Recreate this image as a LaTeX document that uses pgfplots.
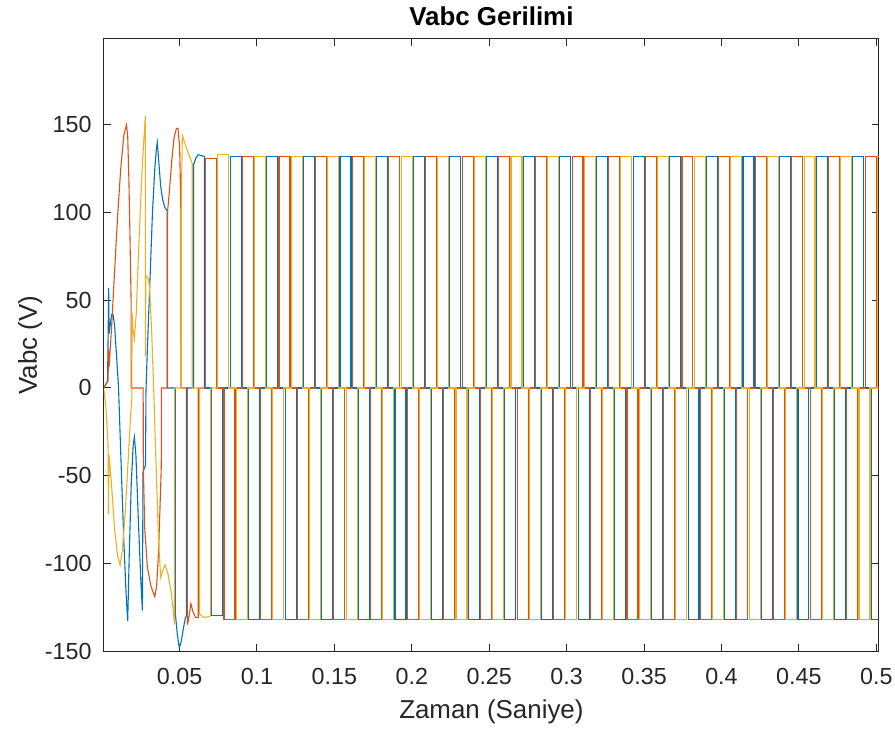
\documentclass[border=0pt]{standalone}
\usepackage{fontspec}
\setmainfont{Liberation Sans}
\usepackage{pgfplots}
\pgfplotsset{compat=1.18}
\definecolor{mblue}{rgb}{0,0.447,0.741}
\definecolor{mred}{rgb}{0.85,0.325,0.098}
\definecolor{myel}{rgb}{0.929,0.694,0.125}
\definecolor{axgray}{rgb}{0.15,0.15,0.15}

\begin{document}
\begin{tikzpicture}
\useasboundingbox (-52bp,-39bp) rectangle (395.5bp,325.5bp);
\begin{axis}[
  at={(0,0)}, anchor=south west,
  scale only axis, width=387.4bp, height=306bp,
  xmin=0.0012, xmax=0.5016, ymin=-150, ymax=199,
  xtick={0.05,0.1,0.15,0.2,0.25,0.3,0.35,0.4,0.45,0.5},
  xticklabels={0.05,0.1,0.15,0.2,0.25,0.3,0.35,0.4,0.45,0.5},
  ytick={-150,-100,-50,0,50,100,150},
  yticklabels={-150,-100,-50,0,50,100,150},
  scaled x ticks=false,
  tick align=inside, major tick length=3.6bp,
  axis line style={axgray, line width=0.5bp},
  every tick/.style={axgray, line width=0.5bp},
  tick label style={font=\fontsize{11.7}{14}\selectfont, text=axgray},
  xticklabel style={anchor=base, yshift=-16.5bp, inner sep=0pt},
  yticklabel style={anchor=east, xshift=-6bp, inner sep=0pt},
  title={Vabc Gerilimi},
  title style={at={(axis description cs:0.5,1)}, anchor=base, yshift=1bp,
    font=\bfseries\fontsize{13}{15}\selectfont, text=black},
  xlabel={Zaman (Saniye)}, ylabel={Vabc (V)},
  label style={font=\fontsize{13}{15}\selectfont, text=axgray},
  xlabel style={at={(axis description cs:0.5,-0.111)}, anchor=base},
  ylabel style={at={(axis description cs:-0.0865,0.5)}, anchor=base},
  every axis plot/.append style={line width=0.55bp},
]
% --- phase a (blue): start-up, then six-step steady state
\addplot[mblue] coordinates {
(0.0010,0)(0.0035,4)(0.0040,40)(0.0042,57)(0.0045,31)(0.0052,36)(0.0062,42)(0.0070,42)
(0.0080,36)(0.0092,20)(0.0106,0)(0.0122,-42)(0.0139,-85)(0.0155,-118)(0.0165,-133)
(0.0176,-92)(0.0188,-55)(0.0200,-33)(0.0208,-28)(0.0218,-38)(0.0236,-80)(0.0250,-110)
(0.0260,-127)(0.0264,-48)(0.0280,-44)(0.0283,-2)(0.0292,22)(0.0310,64)(0.0325,100)
(0.0340,125)(0.0350,136)(0.0356,140)(0.0365,130)(0.0378,115)(0.0392,107)(0.0405,103)
(0.0420,101)(0.0420,0)(0.0472,0)(0.0472,-128)(0.0485,-140)(0.0498,-148)(0.0510,-145)
(0.0525,-137)(0.0538,-131)(0.0545,-130)(0.0545,0)(0.0590,0)(0.0590,127)(0.0605,131)
(0.0620,133)(0.06609,132)(0.06609,0)
};
\addplot[mblue, const plot] coordinates {
(0.06609,0)(0.07083,-130)(0.07792,0)
(0.08266,132)(0.08975,0)(0.09449,-132)(0.10158,0)
(0.10632,132)(0.11341,0)(0.11815,-132)(0.12524,0)
(0.12998,132)(0.13707,0)(0.14181,-132)(0.14890,0)
(0.15364,132)(0.16073,0)(0.16547,-132)(0.17256,0)
(0.17730,132)(0.18439,0)(0.18913,-132)(0.19622,0)
(0.20096,132)(0.20805,0)(0.21279,-132)(0.21988,0)
(0.22462,132)(0.23171,0)(0.23645,-132)(0.24354,0)
(0.24828,132)(0.25537,0)(0.26011,-132)(0.26720,0)
(0.27194,132)(0.27903,0)(0.28377,-132)(0.29086,0)
(0.29560,132)(0.30269,0)(0.30743,-132)(0.31452,0)
(0.31926,132)(0.32635,0)(0.33109,-132)(0.33818,0)
(0.34292,132)(0.35001,0)(0.35475,-132)(0.36184,0)
(0.36658,132)(0.37367,0)(0.37841,-132)(0.38550,0)
(0.39024,132)(0.39733,0)(0.40207,-132)(0.40916,0)
(0.41390,132)(0.42099,0)(0.42573,-132)(0.43282,0)
(0.43756,132)(0.44465,0)(0.44939,-132)(0.45648,0)
(0.46122,132)(0.46831,0)(0.47305,-132)(0.48014,0)
(0.48488,132)(0.49197,0)(0.49671,-132)(0.50380,0)
};
% --- phase b (red)
\addplot[mred] coordinates {
(0.0010,0)(0.0038,4)(0.0042,22)(0.0045,12)(0.0060,33)(0.0080,66)(0.0100,98)(0.0120,125)
(0.0140,144)(0.0157,150)(0.0165,144)(0.0173,118)(0.0180,85)(0.0187,50)(0.0188,0)
(0.0265,0)(0.0266,-45)(0.0275,-80)(0.0292,-102)(0.0315,-113)(0.0340,-119)(0.0352,-113)
(0.0364,-94)(0.0376,-62)(0.0382,-45)(0.0383,0)(0.0422,0)(0.0422,100)(0.0435,113)
(0.0450,130)(0.0465,143)(0.0480,148)(0.0490,148)(0.0500,138)(0.0506,115)(0.0508,105)
(0.0509,0)(0.0550,0)(0.0551,-135)(0.0560,-131)(0.0573,-123)(0.0588,-128)(0.0605,-131)
(0.0621,-131)(0.0621,0)(0.06689,0)
};
\addplot[mred, const plot] coordinates {
(0.06689,0)(0.06689,131)(0.07398,0)(0.07872,-132)(0.08581,0)
(0.09055,132)(0.09764,0)(0.10238,-132)(0.10947,0)
(0.11421,132)(0.12130,0)(0.12604,-132)(0.13313,0)
(0.13787,132)(0.14496,0)(0.14970,-132)(0.15679,0)
(0.16153,132)(0.16862,0)(0.17336,-132)(0.18045,0)
(0.18519,132)(0.19228,0)(0.19702,-132)(0.20411,0)
(0.20885,132)(0.21594,0)(0.22068,-132)(0.22777,0)
(0.23251,132)(0.23960,0)(0.24434,-132)(0.25143,0)
(0.25617,132)(0.26326,0)(0.26800,-132)(0.27509,0)
(0.27983,132)(0.28692,0)(0.29166,-132)(0.29875,0)
(0.30349,132)(0.31058,0)(0.31532,-132)(0.32241,0)
(0.32715,132)(0.33424,0)(0.33898,-132)(0.34607,0)
(0.35081,132)(0.35790,0)(0.36264,-132)(0.36973,0)
(0.37447,132)(0.38156,0)(0.38630,-132)(0.39339,0)
(0.39813,132)(0.40522,0)(0.40996,-132)(0.41705,0)
(0.42179,132)(0.42888,0)(0.43362,-132)(0.44071,0)
(0.44545,132)(0.45254,0)(0.45728,-132)(0.46437,0)
(0.46911,132)(0.47620,0)(0.48094,-132)(0.48803,0)
(0.49277,132)(0.49986,0)(0.50460,-132)(0.51169,0)
};
% --- phase c (yellow)
\addplot[myel] coordinates {
(0.0010,0)(0.0025,-12)(0.0038,-32)(0.0041,-72)(0.0044,-38)(0.0058,-52)(0.0080,-80)
(0.0100,-96)(0.0116,-101)(0.0130,-93)(0.0150,-70)(0.0170,-38)(0.0185,-14)(0.0192,-6)
(0.0193,43)(0.0200,33)(0.0208,28)(0.0220,42)(0.0240,88)(0.0260,128)(0.0279,155)
(0.0280,18)(0.0282,64)(0.0295,63)(0.0306,58)(0.0320,32)(0.0332,2)(0.0345,-35)
(0.0355,-62)(0.0365,-88)(0.0378,-108)(0.0392,-104)(0.0407,-101)(0.0425,-106)
(0.0445,-116)(0.0460,-127)(0.0467,-135)(0.0468,0)(0.0511,0)(0.0512,110)(0.0518,144)
(0.0540,138)(0.0560,133)(0.0578,129)(0.0582,128)(0.0582,0)(0.06294,0)(0.06294,-129)
(0.0660,-131)(0.07003,-130)(0.07003,0)(0.07477,0)
};
\addplot[myel, const plot] coordinates {
(0.07477,0)(0.07477,133)(0.08186,0)(0.08660,-132)(0.09369,0)
(0.09843,132)(0.10552,0)(0.11026,-132)(0.11735,0)
(0.12209,132)(0.12918,0)(0.13392,-132)(0.14101,0)
(0.14575,132)(0.15284,0)(0.15758,-132)(0.16467,0)
(0.16941,132)(0.17650,0)(0.18124,-132)(0.18833,0)
(0.19307,132)(0.20016,0)(0.20490,-132)(0.21199,0)
(0.21673,132)(0.22382,0)(0.22856,-132)(0.23565,0)
(0.24039,132)(0.24748,0)(0.25222,-132)(0.25931,0)
(0.26405,132)(0.27114,0)(0.27588,-132)(0.28297,0)
(0.28771,132)(0.29480,0)(0.29954,-132)(0.30663,0)
(0.31137,132)(0.31846,0)(0.32320,-132)(0.33029,0)
(0.33503,132)(0.34212,0)(0.34686,-132)(0.35395,0)
(0.35869,132)(0.36578,0)(0.37052,-132)(0.37761,0)
(0.38235,132)(0.38944,0)(0.39418,-132)(0.40127,0)
(0.40601,132)(0.41310,0)(0.41784,-132)(0.42493,0)
(0.42967,132)(0.43676,0)(0.44150,-132)(0.44859,0)
(0.45333,132)(0.46042,0)(0.46516,-132)(0.47225,0)
(0.47699,132)(0.48408,0)(0.48882,-132)(0.49591,0)
(0.50065,132)(0.50774,0)
};
\end{axis}
\end{tikzpicture}
\end{document}
